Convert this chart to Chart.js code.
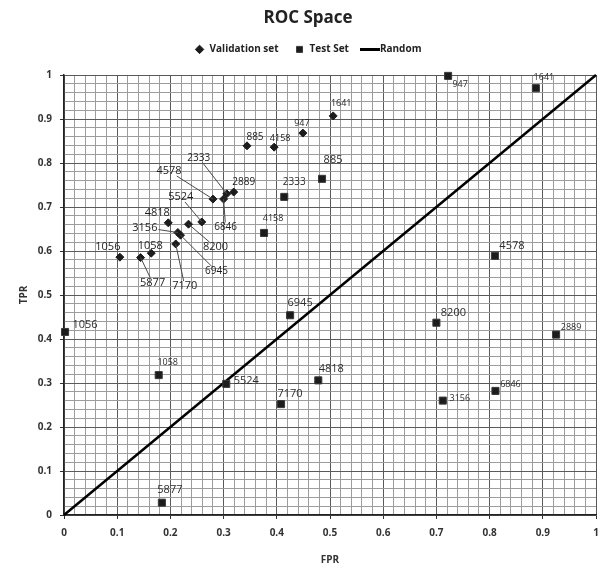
<!DOCTYPE html>
<html><head><meta charset="utf-8">
<script src="https://cdn.jsdelivr.net/npm/chart.js@4/dist/chart.umd.min.js"></script>
<style>html,body{margin:0;padding:0;background:#fff;}</style>
</head><body>
<canvas id="c" width="602" height="577"></canvas>
<script>
// ---------- DATA ----------
const valNames = ['1641','947','4158','885','2889','2333','6846','4578','5524','8200','4818','3156','6945','7170','1058','5877','1056'];
const valFPR   = [0.506,0.449,0.395,0.344,0.319,0.306,0.300,0.280,0.259,0.234,0.196,0.214,0.219,0.210,0.164,0.144,0.105];
const valTPR   = [0.907,0.868,0.836,0.839,0.734,0.730,0.718,0.718,0.666,0.661,0.664,0.642,0.636,0.616,0.595,0.585,0.586];

const testNames = ['947','1641','885','2333','4158','4578','6945','8200','2889','4818','6846','3156','7170','5524','1058','1056','5877'];
const testFPR   = [0.722,0.887,0.485,0.414,0.376,0.810,0.425,0.700,0.925,0.478,0.811,0.712,0.408,0.305,0.178,0.002,0.184];
const testTPR   = [0.998,0.970,0.764,0.723,0.641,0.589,0.454,0.437,0.410,0.306,0.282,0.260,0.252,0.298,0.318,0.416,0.028];

const randomFPR = [0, 1];
const randomTPR = [0, 1];

const tickLabels = ['0','0.1','0.2','0.3','0.4','0.5','0.6','0.7','0.8','0.9','1'];

// ---------- LABEL LAYOUT (pixel offsets of label centre from marker, font size, leader line) ----------
const labelLayout = {
  val: {
    '1641':[8,-12,9,0], '947':[-1,-10,9,0], '4158':[6,-9,9,0], '885':[8,-9,10,0], '2889':[10,-10,10,0],
    '2333':[-28,-36,10,1], '6846':[2,28,10,1], '4578':[-44,-28,11,1], '5524':[-21,-25,11,1],
    '8200':[27,23,11,1], '4818':[-11,-10,11,0], '3156':[-33,-5,11,1], '6945':[36,36,10,1],
    '7170':[9,42,11,1], '1058':[-1,-7,11,0], '5877':[12,25,11,1], '1056':[-12,-10,11,0]
  },
  test: {
    '947':[12,9,9,0], '1641':[8,-11,9,0], '885':[11,-19,11,0], '2333':[10,-15,10,0], '4158':[9,-15,9,0],
    '4578':[17,-10,11,0], '6945':[10,-12,11,0], '8200':[17,-10,11,0], '2889':[15,-7,9,0],
    '4818':[13,-12,11,0], '6846':[15,-6,9,0], '3156':[17,-2,9,0], '7170':[9,-10,11,0],
    '5524':[20,-3,11,0], '1058':[9,-13,9,0], '1056':[20,-7,11,0], '5877':[8,-13,11,0]
  }
};

const FONT = '"Open Sans", "DejaVu Sans", sans-serif';
const isMajor = v => Math.abs(v * 10 - Math.round(v * 10)) < 1e-6;

// legend line image for "Random"
const lineImg = document.createElement('canvas');
lineImg.width = 20; lineImg.height = 3;
(function(){ const g = lineImg.getContext('2d'); g.fillStyle = '#000'; g.fillRect(0, 0, 20, 3); })();

const toPts = (xs, ys) => xs.map((x, i) => ({x: x, y: ys[i]}));

const bgPlugin = {
  id: 'bg',
  beforeDraw(chart) { const c = chart.ctx; c.save(); c.fillStyle = '#fff'; c.fillRect(0, 0, chart.width, chart.height); c.restore(); }
};
const legendSpacer = {
  id: 'legendSpacer',
  beforeLayout(chart) {
    const lg = chart.legend;
    if (lg && !lg._patched) {
      const orig = lg.fit;
      lg.fit = function () { orig.call(this); this.height += 10.6; };
      lg._patched = true;
    }
  },
  afterLayout(chart) {
    [chart.titleBlock, chart.legend].forEach(b => { if (b) { b.left += 10; b.right += 10; } });
  }
};
const pointLabels = {
  id: 'pointLabels',
  afterDatasetsDraw(chart) {
    const ctx = chart.ctx;
    chart.data.datasets.forEach((ds, di) => {
      if (!ds.names) return;
      const lay = labelLayout[ds.layoutKey];
      const meta = chart.getDatasetMeta(di);
      meta.data.forEach((pt, i) => {
        const name = ds.names[i];
        const L = lay[name];
        if (!L) return;
        const cx = pt.x + L[0], cy = pt.y + L[1];
        ctx.save();
        ctx.font = L[2] + 'px ' + FONT;
        const w = ctx.measureText(name).width;
        if (L[3]) {
          const dx = pt.x - cx, dy = pt.y - cy;
          const hw = w / 2 + 1, hh = L[2] * 0.45;
          const t = Math.min(dx !== 0 ? hw / Math.abs(dx) : 1e9, dy !== 0 ? hh / Math.abs(dy) : 1e9);
          ctx.strokeStyle = '#4a4a4a';
          ctx.lineWidth = 1;
          ctx.beginPath();
          ctx.moveTo(cx + dx * t, cy + dy * t);
          ctx.lineTo(pt.x, pt.y);
          ctx.stroke();
        }
        ctx.fillStyle = ds.labelColor;
        ctx.textAlign = 'center';
        ctx.textBaseline = 'middle';
        ctx.fillText(name, cx, cy);
        ctx.restore();
      });
    });
  }
};

new Chart(document.getElementById('c'), {
  type: 'scatter',
  data: {
    datasets: [
      {
        label: 'Validation set',
        data: toPts(valFPR, valTPR),
        names: valNames, layoutKey: 'val', labelColor: '#1e1e1e',
        pointStyle: 'rectRot', pointRadius: 4, pointHoverRadius: 4,
        backgroundColor: '#1c1c1c', borderColor: '#1c1c1c', borderWidth: 1, clip: false
      },
      {
        label: 'Test Set',
        data: toPts(testFPR, testTPR),
        names: testNames, layoutKey: 'test', labelColor: '#2e2e2e',
        pointStyle: 'rect', pointRadius: 5, pointHoverRadius: 5,
        backgroundColor: '#1c1c1c', borderColor: '#3a3a3a', borderWidth: 1, clip: false
      },
      {
        type: 'line',
        label: 'Random',
        data: toPts(randomFPR, randomTPR),
        borderColor: '#000', backgroundColor: '#000', borderWidth: 2.5,
        pointRadius: 0, pointStyle: lineImg, showLine: true, fill: false, clip: false
      }
    ]
  },
  options: {
    responsive: false,
    animation: false,
    devicePixelRatio: 1,
    layout: { padding: { left: 0, right: 6, top: 0, bottom: 0 } },
    plugins: {
      title: {
        display: true, text: 'ROC Space', color: '#222',
        font: { family: FONT, size: 17, weight: 'bold' },
        padding: { top: 8, bottom: 0 }
      },
      legend: {
        display: true, position: 'top',
        labels: {
          usePointStyle: true, boxHeight: 6, color: '#222', padding: 16,
          font: { family: FONT, size: 10, weight: 'bold' }
        }
      },
      tooltip: { enabled: false }
    },
    scales: {
      x: {
        type: 'linear', min: 0, max: 1, position: 'bottom',
        afterFit(s) { s.height = 62; s.paddingRight = 0; s.paddingLeft = 0; },
        ticks: {
          stepSize: 0.02, autoSkip: false, maxTicksLimit: 100, maxRotation: 0, padding: 8,
          color: '#333', font: { family: FONT, size: 10, weight: 'bold' },
          callback: v => isMajor(v) ? tickLabels[Math.round(v * 10)] : ''
        },
        grid: {
          color: c => (c.tick && isMajor(c.tick.value)) ? '#5a5a5a' : '#9c9c9c',
          lineWidth: 1, tickLength: 4,
          tickColor: c => (c.tick && isMajor(c.tick.value)) ? '#333' : 'rgba(0,0,0,0)'
        },
        border: { color: '#222', width: 1.5 },
        title: { display: true, text: 'FPR', color: '#333', font: { family: FONT, size: 10, weight: 'bold' }, padding: { top: 4, bottom: 11 } }
      },
      y: {
        type: 'linear', min: 0, max: 1, position: 'left',
        afterFit(s) { s.width = 64; },
        ticks: {
          stepSize: 0.02, autoSkip: false, maxTicksLimit: 100, padding: 8,
          color: '#333', font: { family: FONT, size: 10, weight: 'bold' },
          callback: v => isMajor(v) ? tickLabels[Math.round(v * 10)] : ''
        },
        grid: {
          color: c => (c.tick && isMajor(c.tick.value)) ? '#5a5a5a' : '#9c9c9c',
          lineWidth: 1, tickLength: 4,
          tickColor: c => (c.tick && isMajor(c.tick.value)) ? '#333' : 'rgba(0,0,0,0)'
        },
        border: { color: '#222', width: 1.5 },
        title: { display: true, text: 'TPR', color: '#333', font: { family: FONT, size: 10, weight: 'bold' }, padding: { top: 18, bottom: 4 } }
      }
    }
  },
  plugins: [bgPlugin, legendSpacer, pointLabels]
});
</script>
</body></html>
